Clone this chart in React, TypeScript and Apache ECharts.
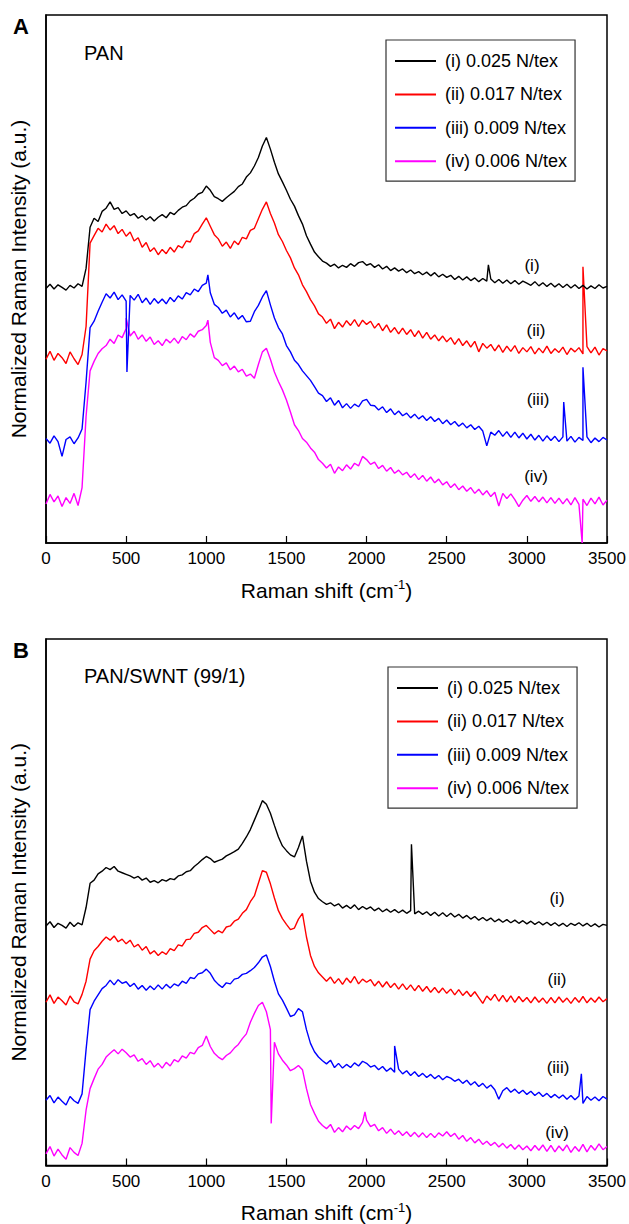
import React, { useEffect, useRef } from "react";
import * as echarts from "echarts";

// Raman shift grid (cm^-1), one reading every 25 cm^-1
const shifts: number[] = Array.from({ length: 141 }, (_, i) => i * 25);

const seriesNames = ["(i) 0.025 N/tex", "(ii) 0.017 N/tex", "(iii) 0.009 N/tex", "(iv) 0.006 N/tex"];
const curveLabels = ["(i)", "(ii)", "(iii)", "(iv)"];
const lineColors = ["#000000", "#ff0000", "#0000ff", "#ff00ff"];
const panelTitles = ["PAN", "PAN/SWNT (99/1)"];
const panelLetters = ["A", "B"];

// ---------- Panel A : PAN ----------
const panA_i = [
  48.2, 49.0, 48.1, 48.9, 48.4, 47.9, 48.8, 48.3, 49.1, 48.6,
  52.0, 59.8, 61.5, 60.9, 62.8, 63.4, 64.6, 63.2, 63.5, 62.4,
  62.9, 62.0, 62.4, 61.5, 62.0, 61.2, 61.8, 61.0, 61.7, 62.2,
  61.6, 62.6, 62.2, 63.0, 63.6, 63.9, 64.8, 65.3, 66.1, 66.4,
  67.6, 66.8, 65.6, 65.2, 64.7, 65.4, 66.0, 66.6, 67.5, 68.0,
  69.3, 70.1, 71.4, 73.0, 75.2, 76.8, 74.6, 72.1, 69.9, 68.4,
  66.8, 65.1, 63.8, 62.0, 60.4, 58.2, 56.6, 55.1, 54.2, 53.4,
  53.0, 52.4, 52.8, 52.1, 52.6, 52.2, 52.9, 52.4, 53.1, 53.3,
  52.6, 52.9, 52.2, 52.7, 51.9, 52.4, 51.6, 52.1, 51.5, 51.9,
  51.2, 51.7, 51.0, 51.4, 50.8, 51.3, 50.6, 51.2, 50.4, 50.9,
  50.3, 50.7, 49.9, 50.5, 49.8, 50.4, 49.7, 50.2, 49.5, 50.1,
  49.6, 50.0, 49.3, 49.9, 49.2, 49.8, 49.1, 49.7, 49.0, 49.6,
  49.2, 48.8, 49.5, 48.7, 49.3, 48.6, 49.2, 48.5, 49.1, 48.4,
  49.0, 48.3, 48.9, 48.2, 48.8, 48.1, 48.7, 48.2, 48.9, 48.3, 48.6,
];
const panA_ii = [
  34.8, 36.3, 34.6, 35.9, 35.1, 34.0, 36.2, 34.9, 33.8, 35.7,
  41.0, 56.8, 58.2, 59.6, 58.9, 60.4, 59.3, 60.1, 58.6, 59.4,
  58.1, 58.9, 57.2, 57.8, 56.0, 56.9, 55.2, 55.9, 54.6, 55.6,
  54.8, 56.0, 55.1, 56.3, 55.9, 57.2, 57.0, 58.6, 59.1, 60.4,
  61.6, 60.0, 58.4, 57.6, 56.2, 57.0, 55.8, 57.2, 56.5, 57.9,
  57.6, 59.2, 59.6, 61.4, 63.2, 64.6, 62.4, 60.6, 58.4, 57.1,
  55.4, 54.0, 52.1, 50.8, 48.9, 47.6, 46.1, 44.9, 43.4, 42.8,
  41.6, 42.4, 40.6, 41.8, 40.9, 42.1, 41.2, 42.3, 41.0, 42.2,
  41.4, 42.0, 40.7, 41.6, 40.2, 41.3, 39.9, 40.8, 39.6, 40.7,
  39.5, 40.4, 39.1, 40.2, 38.8, 39.9, 38.6, 39.4, 38.3, 39.2,
  38.1, 38.9, 37.6, 38.7, 37.4, 38.3, 37.1, 38.2, 36.2, 37.8,
  36.9, 37.6, 36.4, 37.5, 36.1, 37.3, 36.3, 37.4, 35.9, 37.0,
  36.2, 37.2, 35.8, 36.9, 36.0, 37.3, 35.9, 36.8, 36.1, 37.1,
  35.7, 36.9, 36.2, 37.0, 35.8, 37.2, 36.0, 37.1, 35.6, 36.8, 36.4,
];
const panA_iii = [
  19.8, 18.9, 20.3, 19.2, 16.4, 19.6, 20.1, 18.8, 19.9, 21.6,
  30.5, 40.8, 42.0, 43.9, 45.6, 47.2, 46.4, 47.5, 46.1, 47.0,
  45.8, 46.9, 46.0, 47.1, 45.5, 46.4, 45.2, 46.3, 45.4, 46.2,
  45.3, 46.5, 45.7, 46.8, 46.2, 47.4, 47.0, 48.1, 47.6, 48.8,
  49.2, 47.4, 45.2, 44.6, 43.5, 44.1, 42.8, 43.6, 42.4, 43.1,
  41.9, 42.0, 43.8, 45.0, 46.6, 47.8, 45.1, 42.6, 40.8, 39.6,
  37.4, 36.2, 34.6, 33.8, 32.6, 31.7, 30.8, 29.6, 28.4, 27.9,
  26.8, 27.5, 26.1, 27.0, 25.6, 26.4, 25.5, 26.3, 25.8, 26.9,
  27.2, 26.1, 26.0, 25.2, 25.8, 24.7, 25.4, 24.3, 25.0, 24.1,
  24.6, 23.7, 24.4, 23.5, 24.1, 23.2, 23.9, 23.0, 23.6, 22.6,
  23.3, 22.4, 23.0, 22.1, 22.7, 21.8, 22.4, 21.5, 22.1, 21.2,
  18.4, 21.0, 20.4, 21.3, 20.2, 21.1, 20.0, 21.0, 19.9, 20.8,
  19.7, 20.6, 19.5, 20.4, 19.3, 20.3, 19.4, 20.2, 19.2, 20.1,
  19.3, 20.2, 19.1, 20.0, 19.4, 20.1, 19.0, 19.9, 19.2, 20.0, 19.5,
];
const panA_iv = [
  7.4, 9.2, 7.8, 8.9, 6.9, 8.6, 7.5, 9.4, 7.1, 10.5,
  24.0, 32.6, 34.4, 35.9, 36.8, 37.4, 38.6, 37.8, 39.4, 38.9,
  40.6, 39.2, 40.1, 38.6, 39.4, 38.2, 39.0, 37.6, 38.3, 37.4,
  38.6, 37.9, 38.8, 37.8, 39.1, 38.5, 39.6, 39.0, 40.1, 40.4,
  41.2, 38.0, 35.1, 34.6, 33.6, 34.1, 32.8, 33.5, 32.4, 32.9,
  31.6, 32.0, 31.2, 33.8, 36.2, 36.9, 34.8, 32.4, 30.6, 29.0,
  27.1, 24.8, 22.4, 21.3, 19.8, 19.1, 18.0, 17.2, 15.8, 15.1,
  14.2, 14.9, 13.2, 14.4, 13.7, 14.8, 14.0, 15.1, 14.6, 16.4,
  15.8, 14.9, 15.3, 14.1, 14.7, 13.6, 14.3, 13.2, 13.8, 12.9,
  13.4, 12.4, 13.1, 12.0, 12.8, 11.7, 12.5, 11.4, 12.1, 11.0,
  11.6, 10.5, 11.2, 10.1, 10.8, 9.8, 10.5, 9.4, 10.2, 9.1,
  9.9, 8.8, 9.6, 7.0, 9.4, 8.4, 9.3, 8.2, 6.9, 8.1,
  9.0, 7.9, 8.8, 7.8, 8.7, 7.6, 8.6, 7.5, 8.5, 7.4,
  8.4, 7.2, 8.6, 7.3, 8.3, 7.1, 8.5, 7.4, 8.7, 7.2, 8.1,
];
// narrow spikes [shift, intensity]
const spikesA_i: number[][] = [[2760, 52.7]];
const spikesA_ii: number[][] = [[3350, 52.3]];
const spikesA_iii: number[][] = [[505, 32.4], [1010, 50.8], [3230, 26.7], [3350, 33.3]];
const spikesA_iv: number[][] = [[500, 42.6], [1010, 42.2], [3345, 0]];

// ---------- Panel B : PAN/SWNT (99/1) ----------
const panB_i = [
  45.5, 46.3, 45.2, 46.0, 45.6, 45.1, 46.2, 45.4, 46.1, 45.7,
  49.0, 53.6, 54.2, 55.4, 55.9, 56.6, 56.2, 56.8, 55.9, 55.6,
  55.3, 55.0, 54.6, 54.9, 54.2, 54.6, 53.8, 54.1, 53.7, 54.3,
  54.0, 54.5, 54.3, 55.0, 55.2, 55.8, 56.0, 56.8, 57.4, 58.1,
  58.7, 58.3, 57.6, 57.9, 58.2, 58.8, 59.2, 59.6, 60.1, 61.2,
  62.4, 63.8, 65.6, 67.4, 69.3, 68.6, 66.9, 64.6, 62.4, 60.7,
  59.8, 59.0, 58.6, 60.4, 62.6, 57.8, 54.0, 51.9, 50.7, 50.1,
  49.6, 49.9, 49.3, 49.7, 48.9, 49.4, 48.8, 49.5, 48.6, 49.2,
  48.7, 49.1, 48.4, 48.9, 48.2, 48.7, 48.1, 48.6, 48.0, 48.5,
  47.9, 48.4, 47.8, 48.3, 47.7, 48.2, 47.5, 48.1, 47.4, 48.0,
  47.3, 47.9, 47.2, 47.7, 47.0, 47.5, 46.8, 47.3, 46.6, 47.1,
  46.5, 47.0, 46.3, 46.8, 46.2, 46.7, 46.1, 46.6, 46.0, 46.5,
  45.9, 46.4, 45.8, 46.3, 45.7, 46.2, 45.6, 46.1, 45.5, 46.0,
  45.4, 46.0, 45.6, 46.1, 45.5, 46.0, 45.4, 45.9, 45.3, 45.8, 45.6,
];
const panB_ii = [
  31.0, 32.4, 30.8, 32.0, 31.3, 30.5, 32.2, 31.1, 30.7, 32.5,
  35.0, 39.2, 40.8, 41.6, 42.6, 43.4, 42.8, 43.6, 42.5, 43.0,
  42.1, 42.8, 41.5, 42.0, 40.9, 41.6, 40.2, 40.8, 39.9, 40.6,
  40.1, 41.2, 40.8, 41.9, 41.7, 42.9, 43.0, 44.1, 44.3, 45.2,
  45.6, 44.8, 44.0, 44.6, 44.2, 45.3, 45.5, 46.4, 46.8, 47.9,
  48.6, 50.1, 51.2, 53.6, 56.0, 55.7, 53.5, 50.8, 48.4, 46.9,
  45.8, 44.8, 45.1, 46.8, 47.9, 43.4, 39.9, 37.8, 36.6, 35.8,
  35.0, 35.8, 34.6, 35.5, 34.4, 35.6, 34.7, 35.9, 34.5, 35.4,
  34.8, 35.3, 34.1, 35.0, 33.9, 34.9, 33.8, 34.6, 33.5, 34.5,
  33.4, 34.3, 33.2, 34.2, 33.1, 34.0, 32.9, 33.8, 32.8, 33.7,
  32.7, 33.5, 32.4, 33.4, 32.3, 33.1, 32.1, 33.0, 31.9, 30.8,
  32.2, 31.4, 32.5, 31.2, 32.3, 31.1, 32.2, 31.0, 32.1, 31.1,
  31.9, 30.9, 32.0, 31.0, 31.8, 30.8, 31.9, 30.9, 32.0, 31.0,
  31.8, 30.8, 31.9, 31.0, 32.1, 30.9, 31.8, 31.0, 32.0, 31.1, 31.7,
];
const panB_iii = [
  12.4, 13.3, 11.9, 13.0, 12.2, 11.5, 13.1, 12.3, 11.8, 13.6,
  22.0, 29.6, 31.2, 32.4, 33.6, 34.2, 35.2, 34.3, 35.3, 34.6,
  34.9, 34.0, 34.6, 33.5, 34.2, 33.3, 34.1, 33.4, 34.3, 33.5,
  34.4, 33.7, 34.5, 34.1, 35.0, 34.6, 35.7, 35.5, 36.4, 36.6,
  37.3, 36.5, 35.2, 34.4, 33.8, 34.7, 34.5, 35.4, 35.6, 36.3,
  36.5, 37.0, 37.6, 38.5, 39.6, 40.0, 37.8, 35.0, 32.6, 31.4,
  29.9, 28.3, 28.6, 29.8, 29.2, 25.8, 23.2, 21.6, 20.6, 19.9,
  19.3, 20.0, 18.6, 19.4, 18.5, 19.2, 18.6, 19.5, 18.9, 19.8,
  19.4, 18.7, 19.0, 18.2, 18.8, 17.9, 18.5, 17.7, 18.3, 17.4,
  18.0, 17.1, 17.8, 16.9, 17.5, 16.7, 17.3, 16.5, 17.1, 16.3,
  16.9, 16.6, 16.0, 16.4, 15.6, 16.2, 15.3, 15.9, 15.0, 15.6,
  14.7, 15.3, 14.4, 12.6, 14.2, 14.8, 13.9, 14.5, 13.7, 14.3,
  13.5, 14.1, 13.3, 13.9, 13.1, 13.7, 12.9, 13.5, 12.8, 13.4,
  12.6, 13.3, 12.5, 13.2, 11.8, 13.1, 12.4, 13.0, 12.3, 13.1, 12.6,
];
const panB_iv = [
  2.2, 3.6, 1.8, 3.1, 2.0, 1.2, 3.4, 2.5, 1.9, 4.2,
  10.5, 14.6, 16.5, 18.3, 19.2, 20.6, 21.3, 22.0, 21.2, 22.1,
  21.4, 20.6, 21.0, 19.8, 20.3, 19.2, 19.9, 18.7, 19.4, 18.5,
  19.6, 18.9, 20.1, 19.7, 20.8, 20.4, 21.5, 21.2, 22.4, 22.8,
  24.6, 22.6, 21.3, 20.6, 20.1, 20.9, 21.4, 22.3, 23.0, 24.1,
  25.0, 27.2, 28.9, 30.4, 31.0, 29.2, 25.8, 23.4, 21.2, 20.0,
  19.1, 18.0, 18.4, 19.0, 18.2, 14.6, 11.6, 9.9, 8.4, 7.6,
  7.0, 7.8, 6.3, 7.2, 6.4, 7.5, 6.8, 7.6, 7.0, 8.2,
  8.6, 7.4, 7.8, 6.6, 7.2, 6.1, 6.9, 5.9, 6.6, 5.7,
  6.4, 5.5, 6.3, 5.4, 6.2, 5.3, 6.1, 5.3, 6.2, 5.6,
  6.4, 5.5, 6.1, 5.0, 5.7, 4.6, 5.3, 4.3, 5.0, 4.0,
  4.6, 3.8, 4.4, 3.5, 4.2, 3.3, 4.0, 3.1, 3.9, 3.0,
  3.7, 2.8, 3.8, 2.9, 3.9, 2.7, 3.8, 2.6, 3.7, 2.8,
  3.9, 2.5, 3.6, 2.7, 4.0, 2.6, 3.8, 2.9, 4.1, 3.0, 3.6,
];
const spikesB_i: number[][] = [[2280, 61.0]];
const spikesB_ii: number[][] = [];
const spikesB_iii: number[][] = [[2175, 22.7], [3340, 17.4]];
const spikesB_iv: number[][] = [[1405, 8.0], [1990, 10.2]];

const panelA = [panA_i, panA_ii, panA_iii, panA_iv];
const panelB = [panB_i, panB_ii, panB_iii, panB_iv];
const spikesA = [spikesA_i, spikesA_ii, spikesA_iii, spikesA_iv];
const spikesB = [spikesB_i, spikesB_ii, spikesB_iii, spikesB_iv];

const FONT = "Liberation Sans";

function buildPoints(values: number[], spikes: number[][]) {
  const pts: number[][] = shifts.map((x, i) => [x, values[i]]);
  spikes.forEach((s) => pts.push([s[0], s[1]]));
  pts.sort((a, b) => a[0] - b[0]);
  return pts;
}

const GRIDS = [
  { left: 43, top: 15, width: 564, height: 528 },
  { left: 43, top: 639, width: 564, height: 528 },
];
const LEGENDS = [
  { left: 386, top: 40 },
  { left: 388, top: 667 },
];
const LABEL_POS = [
  [[532, 265], [536, 330], [538, 399], [536, 476]],
  [[557, 898], [557, 979], [558, 1067], [557, 1132]],
];

export default function App() {
  const ref = useRef<HTMLDivElement>(null);
  useEffect(() => {
    document.body.style.margin = "0";
    if (!ref.current) return;
    const chart = echarts.init(ref.current, null, { renderer: "svg" });

    const xAxes = GRIDS.map((_, g) => ({
      type: "value",
      gridIndex: g,
      min: 0,
      max: 3500,
      interval: 500,
      axisLine: { show: true, lineStyle: { color: "#000", width: 1.5 } },
      axisTick: { show: true, inside: true, length: 7, lineStyle: { color: "#000", width: 1.2 } },
      axisLabel: {
        color: "#000",
        fontSize: 17,
        fontFamily: FONT,
        margin: 7,
        formatter: (v: number) => String(v),
      },
      splitLine: { show: false },
      name: "Raman shift (cm{sup|-1})",
      nameLocation: "middle",
      nameGap: 35,
      nameTextStyle: {
        color: "#000",
        fontSize: 21,
        fontFamily: FONT,
        rich: { sup: { fontSize: 13, fontFamily: FONT, color: "#000", padding: [0, 0, 11, 0] } },
      },
    }));
    const yAxes = GRIDS.map((_, g) => ({
      type: "value",
      gridIndex: g,
      min: 0,
      max: 100,
      axisLine: { show: true, lineStyle: { color: "#000", width: 1.5 } },
      axisTick: { show: false },
      axisLabel: { show: false },
      splitLine: { show: false },
      name: "Normalized Raman Intensity (a.u.)",
      nameLocation: "middle",
      nameGap: 17,
      nameTextStyle: { color: "#000", fontSize: 21, fontFamily: FONT },
    }));

    const series: any[] = [];
    [panelA, panelB].forEach((panel, g) => {
      const sp = g === 0 ? spikesA : spikesB;
      panel.forEach((vals, k) => {
        series.push({
          type: "line",
          name: seriesNames[k],
          xAxisIndex: g,
          yAxisIndex: g,
          data: buildPoints(vals, sp[k]),
          showSymbol: false,
          symbol: "none",
          lineStyle: { color: lineColors[k], width: 1.4 },
          itemStyle: { color: lineColors[k] },
          clip: true,
          z: 10 - k,
        });
      });
    });

    const legends = LEGENDS.map((l) => ({
      orient: "vertical",
      left: l.left,
      top: l.top,
      data: seriesNames,
      itemWidth: 41,
      itemHeight: 14,
      itemGap: 15.4,
      padding: [12, 8, 11, 9],
      borderColor: "#333",
      borderWidth: 1.2,
      selectedMode: false,
      icon: "path://M0,6 L41,6 L41,8 L0,8 Z",
      textStyle: { color: "#000", fontSize: 18, fontFamily: FONT, padding: [0, 0, 0, 4] },
    }));

    const graphics: any[] = [];
    GRIDS.forEach((gr, g) => {
      graphics.push({
        type: "text",
        x: 13,
        y: gr.top + 11,
        style: { text: panelLetters[g], font: `bold 22px ${FONT}`, fill: "#000", verticalAlign: "middle" },
      });
      graphics.push({
        type: "text",
        x: 84,
        y: g === 0 ? 53 : 676,
        style: { text: panelTitles[g], font: `20px ${FONT}`, fill: "#000", verticalAlign: "middle" },
      });
      LABEL_POS[g].forEach((p, k) => {
        graphics.push({
          type: "text",
          x: p[0],
          y: p[1],
          style: { text: curveLabels[k], font: `17px ${FONT}`, fill: "#000", align: "center", verticalAlign: "middle" },
        });
      });
    });

    chart.setOption({
      animation: false,
      backgroundColor: "#fff",
      textStyle: { fontFamily: FONT },
      grid: GRIDS.map((gr) => ({ ...gr, show: true, borderColor: "#000", borderWidth: 1.5, backgroundColor: "transparent" })),
      xAxis: xAxes,
      yAxis: yAxes,
      legend: legends,
      series,
      graphic: graphics,
    });
    return () => chart.dispose();
  }, []);
  return <div ref={ref} style={{ width: 629, height: 1224 }} />;
}
